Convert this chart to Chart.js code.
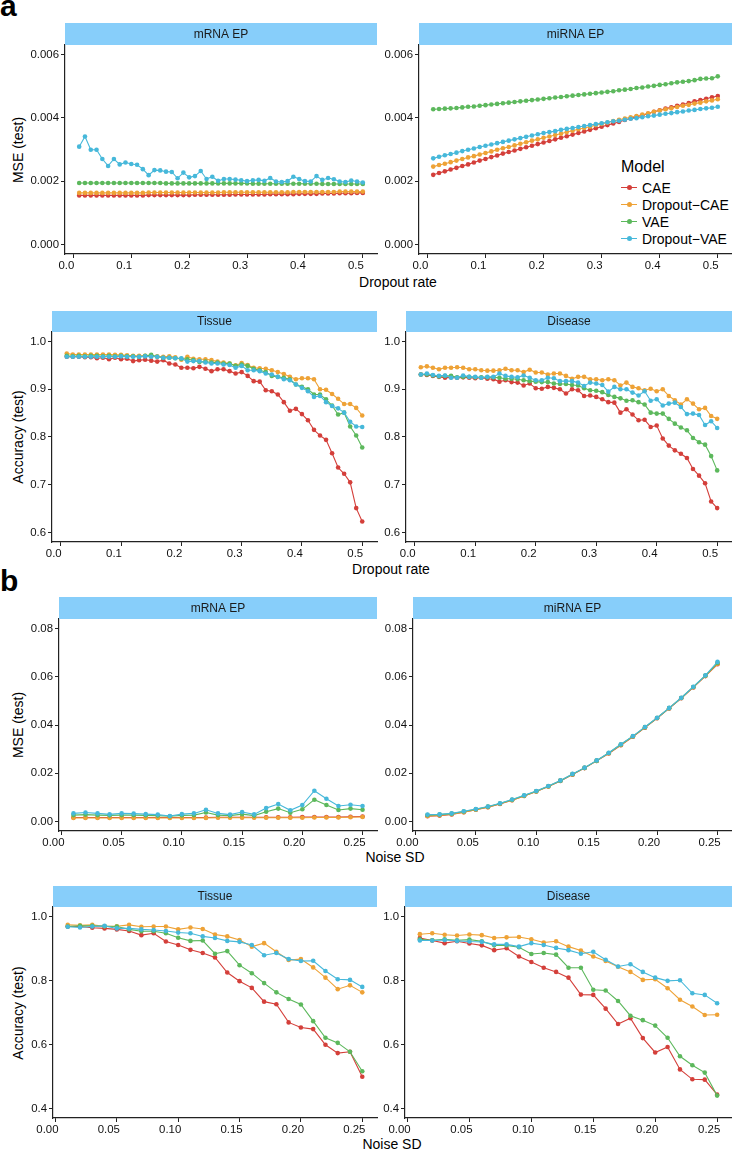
<!DOCTYPE html>
<html>
<head>
<meta charset="utf-8">
<script src="https://cdn.jsdelivr.net/npm/chart.js@4.4.0/dist/chart.umd.min.js"></script>
<style>
  html, body { margin:0; padding:0; background:#fff; width:732px; height:1150px; overflow:hidden; position:relative; font-family:"Liberation Sans", Arial, sans-serif; }
  canvas { position:absolute; }
  .lbl { position:absolute; font-weight:bold; font-size:30px; line-height:30px; color:#000; }
  .xt { position:absolute; font-size:14px; line-height:14px; color:#000; transform:translate(-50%,-50%); white-space:nowrap; }
  .yt { position:absolute; font-size:14px; line-height:14px; color:#000; transform:translate(-50%,-50%) rotate(-90deg); white-space:nowrap; }
  .leg { position:absolute; left:621px; top:159px; color:#000; }
  .leg .ttl { font-size:16px; line-height:16px; margin-bottom:4px; }
  .leg .row { height:17px; display:flex; align-items:center; font-size:14px; }
  .leg .key { width:16px; height:10px; position:relative; margin-right:5px; }
  .leg .key .ln { position:absolute; left:0; right:0; top:4.5px; height:1px; }
  .leg .key .dt { position:absolute; left:5.5px; top:2.5px; width:5px; height:5px; border-radius:50%; }
</style>
</head>
<body>
<div class="lbl" style="left:0px; top:-9px;">a</div>
<div class="lbl" style="left:0px; top:566px;">b</div>

<div class="yt" style="left:18px; top:150px;">MSE (test)</div>
<div class="yt" style="left:18px; top:437px;">Accuracy (test)</div>
<div class="yt" style="left:18px; top:725px;">MSE (test)</div>
<div class="yt" style="left:18px; top:1013px;">Accuracy (test)</div>

<div class="xt" style="left:398px; top:282px;">Dropout rate</div>
<div class="xt" style="left:391px; top:569px;">Dropout rate</div>
<div class="xt" style="left:395px; top:857px;">Noise SD</div>
<div class="xt" style="left:392px; top:1144px;">Noise SD</div>

<div class="leg" id="legend"></div>

<canvas id="c1"></canvas><canvas id="c2"></canvas><canvas id="c3"></canvas><canvas id="c4"></canvas>
<canvas id="c5"></canvas><canvas id="c6"></canvas><canvas id="c7"></canvas><canvas id="c8"></canvas>

<script>
// ---------------- DATA ----------------
const modelNames = ['CAE', 'Dropout\u2212CAE', 'VAE', 'Dropout\u2212VAE'];
const modelColors = ['#D43F3A', '#EEA236', '#5CB85C', '#46B8DA'];

const dropoutRates = [0.01,0.02,0.03,0.04,0.05,0.06,0.07,0.08,0.09,0.10,
  0.11,0.12,0.13,0.14,0.15,0.16,0.17,0.18,0.19,0.20,
  0.21,0.22,0.23,0.24,0.25,0.26,0.27,0.28,0.29,0.30,
  0.31,0.32,0.33,0.34,0.35,0.36,0.37,0.38,0.39,0.40,
  0.41,0.42,0.43,0.44,0.45,0.46,0.47,0.48,0.49,0.50];
const noiseSDs = [0.01,0.02,0.03,0.04,0.05,0.06,0.07,0.08,0.09,0.10,
  0.11,0.12,0.13,0.14,0.15,0.16,0.17,0.18,0.19,0.20,
  0.21,0.22,0.23,0.24,0.25];

// tick values and labels
const dropoutTicks = [0.0,0.1,0.2,0.3,0.4,0.5];
const dropoutTickLabels = ['0.0','0.1','0.2','0.3','0.4','0.5'];
const noiseTicks = [0.00,0.05,0.10,0.15,0.20,0.25];
const noiseTickLabels = ['0.00','0.05','0.10','0.15','0.20','0.25'];
const mseDropTicks = [0.000,0.002,0.004,0.006];
const mseDropTickLabels = ['0.000','0.002','0.004','0.006'];
const accDropTicks = [0.6,0.7,0.8,0.9,1.0];
const accDropTickLabels = ['0.6','0.7','0.8','0.9','1.0'];
const mseNoiseTicks = [0.00,0.02,0.04,0.06,0.08];
const mseNoiseTickLabels = ['0.00','0.02','0.04','0.06','0.08'];
const accNoiseTicks = [0.4,0.6,0.8,1.0];
const accNoiseTickLabels = ['0.4','0.6','0.8','1.0'];

// (a) MSE vs dropout, mRNA EP
const mrnaDropCAE = [0.00155,0.00155,0.00155,0.00155,0.00155,0.00155,0.00155,0.00155,0.00155,0.00155,
  0.00155,0.00155,0.00156,0.00156,0.00156,0.00156,0.00156,0.00156,0.00156,0.00156,
  0.00157,0.00157,0.00157,0.00157,0.00157,0.00157,0.00157,0.00158,0.00158,0.00158,
  0.00158,0.00158,0.00158,0.00159,0.00159,0.00159,0.00159,0.00159,0.00160,0.00160,
  0.00160,0.00160,0.00161,0.00161,0.00161,0.00162,0.00162,0.00162,0.00163,0.00163];
const mrnaDropDCAE = [0.00163,0.00163,0.00163,0.00163,0.00163,0.00163,0.00163,0.00163,0.00163,0.00163,
  0.00163,0.00163,0.00164,0.00164,0.00164,0.00164,0.00164,0.00164,0.00164,0.00164,
  0.00164,0.00164,0.00164,0.00164,0.00164,0.00165,0.00165,0.00165,0.00165,0.00165,
  0.00165,0.00165,0.00165,0.00165,0.00165,0.00165,0.00165,0.00166,0.00166,0.00166,
  0.00166,0.00166,0.00166,0.00166,0.00166,0.00167,0.00167,0.00167,0.00167,0.00167];
const mrnaDropVAE = [0.00194,0.00194,0.00194,0.00194,0.00194,0.00194,0.00194,0.00194,0.00194,0.00194,
  0.00194,0.00194,0.00194,0.00194,0.00194,0.00193,0.00193,0.00193,0.00193,0.00193,
  0.00193,0.00193,0.00193,0.00193,0.00193,0.00193,0.00193,0.00193,0.00193,0.00193,
  0.00192,0.00192,0.00192,0.00192,0.00192,0.00192,0.00192,0.00192,0.00192,0.00192,
  0.00192,0.00192,0.00191,0.00191,0.00191,0.00191,0.00191,0.00191,0.00191,0.00191];
const mrnaDropDVAE = [0.00309,0.00341,0.00299,0.00299,0.00270,0.00248,0.00270,0.00253,0.00259,0.00254,
  0.00252,0.00238,0.00219,0.00235,0.00234,0.00230,0.00229,0.00209,0.00227,0.00212,
  0.00216,0.00232,0.00207,0.00214,0.00201,0.00207,0.00207,0.00205,0.00203,0.00200,
  0.00203,0.00204,0.00201,0.00210,0.00199,0.00197,0.00200,0.00214,0.00207,0.00200,
  0.00199,0.00216,0.00204,0.00210,0.00206,0.00199,0.00197,0.00202,0.00199,0.00196];

// (a) MSE vs dropout, miRNA EP
const mirnaDropCAE = [0.00220,0.00226,0.00231,0.00237,0.00242,0.00248,0.00253,0.00259,0.00265,0.00270,
  0.00276,0.00281,0.00287,0.00292,0.00297,0.00302,0.00307,0.00312,0.00317,0.00322,
  0.00327,0.00332,0.00337,0.00342,0.00347,0.00352,0.00357,0.00362,0.00367,0.00372,
  0.00377,0.00382,0.00387,0.00393,0.00398,0.00403,0.00408,0.00413,0.00419,0.00424,
  0.00429,0.00433,0.00438,0.00442,0.00447,0.00452,0.00456,0.00460,0.00465,0.00469];
const mirnaDropDCAE = [0.00246,0.00251,0.00255,0.00260,0.00265,0.00270,0.00275,0.00279,0.00284,0.00289,
  0.00294,0.00299,0.00304,0.00308,0.00313,0.00318,0.00323,0.00328,0.00332,0.00337,
  0.00341,0.00346,0.00350,0.00355,0.00359,0.00364,0.00368,0.00372,0.00377,0.00381,
  0.00385,0.00390,0.00394,0.00398,0.00402,0.00406,0.00410,0.00414,0.00419,0.00423,
  0.00427,0.00430,0.00434,0.00438,0.00441,0.00445,0.00448,0.00452,0.00455,0.00459];
const mirnaDropVAE = [0.00427,0.00428,0.00429,0.00430,0.00431,0.00433,0.00435,0.00436,0.00438,0.00440,
  0.00442,0.00444,0.00446,0.00448,0.00450,0.00452,0.00454,0.00456,0.00458,0.00460,
  0.00462,0.00464,0.00466,0.00468,0.00470,0.00472,0.00474,0.00476,0.00478,0.00480,
  0.00482,0.00484,0.00487,0.00489,0.00491,0.00494,0.00496,0.00499,0.00501,0.00504,
  0.00506,0.00509,0.00512,0.00514,0.00516,0.00519,0.00523,0.00524,0.00525,0.00531];
const mirnaDropDVAE = [0.00272,0.00277,0.00282,0.00286,0.00290,0.00295,0.00299,0.00303,0.00308,0.00312,
  0.00316,0.00320,0.00324,0.00328,0.00332,0.00336,0.00340,0.00344,0.00348,0.00352,
  0.00355,0.00358,0.00362,0.00365,0.00368,0.00371,0.00374,0.00377,0.00380,0.00383,
  0.00386,0.00389,0.00391,0.00394,0.00397,0.00399,0.00402,0.00405,0.00407,0.00410,
  0.00413,0.00415,0.00418,0.00420,0.00423,0.00425,0.00428,0.00430,0.00432,0.00435];

// (a) Accuracy vs dropout, Tissue
const tisDropCAE = [0.968,0.968,0.968,0.967,0.967,0.965,0.966,0.963,0.966,0.963,
  0.964,0.959,0.961,0.962,0.960,0.958,0.961,0.954,0.952,0.945,
  0.945,0.944,0.947,0.943,0.938,0.942,0.942,0.938,0.933,0.936,
  0.928,0.917,0.916,0.898,0.896,0.889,0.873,0.855,0.859,0.848,
  0.835,0.815,0.803,0.794,0.766,0.736,0.723,0.705,0.651,0.623];
const tisDropDCAE = [0.975,0.973,0.973,0.973,0.973,0.973,0.973,0.973,0.972,0.972,
  0.971,0.970,0.970,0.970,0.969,0.969,0.968,0.969,0.967,0.962,
  0.968,0.964,0.963,0.963,0.961,0.958,0.956,0.954,0.950,0.955,
  0.951,0.945,0.944,0.943,0.940,0.936,0.932,0.926,0.921,0.923,
  0.923,0.921,0.900,0.899,0.890,0.880,0.869,0.869,0.861,0.845];
const tisDropVAE = [0.970,0.969,0.970,0.969,0.970,0.970,0.969,0.970,0.969,0.970,
  0.969,0.969,0.968,0.970,0.972,0.968,0.966,0.966,0.965,0.964,
  0.963,0.961,0.957,0.958,0.956,0.956,0.954,0.954,0.949,0.952,
  0.949,0.943,0.940,0.936,0.928,0.926,0.924,0.921,0.910,0.905,
  0.900,0.889,0.889,0.879,0.866,0.847,0.851,0.822,0.803,0.778];
const tisDropDVAE = [0.968,0.968,0.968,0.968,0.968,0.968,0.968,0.968,0.968,0.969,
  0.968,0.968,0.968,0.969,0.968,0.968,0.966,0.966,0.965,0.965,
  0.958,0.959,0.959,0.956,0.954,0.954,0.952,0.951,0.945,0.949,
  0.940,0.940,0.938,0.933,0.931,0.926,0.921,0.919,0.910,0.903,
  0.896,0.884,0.886,0.873,0.865,0.860,0.851,0.832,0.822,0.821];

// (a) Accuracy vs dropout, Disease
const disDropCAE = [0.931,0.930,0.928,0.926,0.924,0.925,0.924,0.925,0.924,0.923,
  0.924,0.922,0.921,0.916,0.919,0.915,0.914,0.908,0.912,0.902,
  0.901,0.905,0.903,0.900,0.891,0.900,0.898,0.886,0.887,0.884,
  0.879,0.873,0.872,0.851,0.858,0.847,0.835,0.836,0.821,0.824,
  0.797,0.782,0.772,0.765,0.756,0.733,0.719,0.703,0.665,0.651];
const disDropDCAE = [0.946,0.948,0.945,0.942,0.945,0.945,0.946,0.945,0.942,0.942,
  0.940,0.939,0.939,0.940,0.943,0.940,0.940,0.936,0.941,0.935,
  0.935,0.931,0.933,0.933,0.928,0.922,0.926,0.926,0.921,0.921,
  0.919,0.921,0.919,0.908,0.914,0.905,0.902,0.898,0.901,0.896,
  0.900,0.886,0.877,0.868,0.879,0.870,0.858,0.861,0.844,0.838];
const disDropVAE = [0.931,0.931,0.929,0.927,0.928,0.928,0.925,0.926,0.926,0.925,
  0.925,0.925,0.925,0.924,0.922,0.922,0.921,0.919,0.917,0.916,
  0.915,0.915,0.912,0.911,0.911,0.909,0.908,0.902,0.898,0.897,
  0.894,0.888,0.884,0.881,0.876,0.877,0.873,0.868,0.851,0.849,
  0.849,0.838,0.828,0.820,0.814,0.798,0.789,0.784,0.760,0.730];
const disDropDVAE = [0.931,0.933,0.930,0.928,0.929,0.924,0.924,0.929,0.926,0.926,
  0.924,0.926,0.926,0.933,0.928,0.926,0.925,0.929,0.924,0.919,
  0.919,0.924,0.923,0.917,0.917,0.917,0.914,0.907,0.914,0.912,
  0.909,0.895,0.905,0.900,0.900,0.893,0.887,0.896,0.876,0.879,
  0.866,0.870,0.872,0.863,0.848,0.849,0.846,0.825,0.833,0.819];

// (b) MSE vs noise, mRNA EP
const mrnaNoiseCAE = [0.0016,0.0016,0.0016,0.0016,0.0016,0.0016,0.0016,0.0016,0.0016,0.0016,
  0.0016,0.0016,0.0017,0.0017,0.0017,0.0017,0.0017,0.0017,0.0017,0.0018,
  0.0018,0.0018,0.0018,0.0019,0.0020];
const mrnaNoiseDCAE = [0.0014,0.0014,0.0014,0.0014,0.0014,0.0014,0.0014,0.0014,0.0014,0.0014,
  0.0014,0.0014,0.0015,0.0015,0.0015,0.0015,0.0015,0.0015,0.0015,0.0015,
  0.0016,0.0016,0.0016,0.0017,0.0018];
const mrnaNoiseVAE = [0.0026,0.0028,0.0026,0.0025,0.0026,0.0026,0.0025,0.0024,0.0021,0.0025,
  0.0026,0.0037,0.0026,0.0024,0.0030,0.0024,0.0040,0.0053,0.0036,0.0050,
  0.0090,0.0068,0.0047,0.0053,0.0048];
const mrnaNoiseDVAE = [0.0033,0.0037,0.0033,0.0029,0.0033,0.0032,0.0030,0.0028,0.0022,0.0030,
  0.0033,0.0048,0.0033,0.0028,0.0039,0.0029,0.0055,0.0072,0.0046,0.0068,
  0.0127,0.0094,0.0064,0.0069,0.0064];

// (b) MSE vs noise, miRNA EP
const mirnaNoiseCAE = [0.0021,0.0024,0.0029,0.0038,0.0048,0.0059,0.0072,0.0088,0.0105,0.0124,
  0.0145,0.0168,0.0194,0.0221,0.0251,0.0282,0.0316,0.0351,0.0389,0.0428,
  0.0469,0.0511,0.0556,0.0603,0.0652];
const mirnaNoiseDCAE = [0.0022,0.0025,0.0030,0.0038,0.0048,0.0059,0.0073,0.0088,0.0105,0.0124,
  0.0145,0.0169,0.0195,0.0222,0.0251,0.0283,0.0317,0.0352,0.0390,0.0429,
  0.0470,0.0512,0.0557,0.0604,0.0654];
const mirnaNoiseVAE = [0.0026,0.0028,0.0032,0.0041,0.0050,0.0061,0.0074,0.0090,0.0107,0.0125,
  0.0146,0.0169,0.0196,0.0222,0.0252,0.0284,0.0319,0.0353,0.0391,0.0429,
  0.0470,0.0512,0.0558,0.0605,0.0658];
const mirnaNoiseDVAE = [0.0028,0.0029,0.0033,0.0042,0.0051,0.0062,0.0075,0.0091,0.0108,0.0126,
  0.0147,0.0170,0.0197,0.0223,0.0253,0.0285,0.0320,0.0354,0.0392,0.0430,
  0.0471,0.0513,0.0559,0.0606,0.0662];

// (b) Accuracy vs noise, Tissue
const tisNoiseCAE = [0.969,0.969,0.965,0.963,0.960,0.955,0.942,0.948,0.922,0.911,
  0.896,0.886,0.872,0.825,0.798,0.777,0.734,0.726,0.669,0.653,
  0.648,0.599,0.573,0.577,0.499];
const tisNoiseDCAE = [0.974,0.973,0.974,0.970,0.970,0.974,0.968,0.969,0.969,0.960,
  0.966,0.961,0.944,0.938,0.927,0.906,0.917,0.890,0.864,0.867,
  0.841,0.809,0.773,0.785,0.763];
const tisNoiseVAE = [0.969,0.971,0.971,0.970,0.969,0.960,0.954,0.954,0.948,0.934,
  0.924,0.925,0.884,0.892,0.848,0.823,0.792,0.763,0.742,0.725,
  0.673,0.621,0.605,0.577,0.516];
const tisNoiseDVAE = [0.968,0.966,0.969,0.971,0.963,0.963,0.960,0.958,0.955,0.950,
  0.948,0.938,0.933,0.924,0.921,0.911,0.879,0.886,0.867,0.861,
  0.862,0.830,0.804,0.802,0.780];

// (b) Accuracy vs noise, Disease
const disNoiseCAE = [0.933,0.925,0.917,0.923,0.916,0.910,0.895,0.901,0.875,0.858,
  0.840,0.827,0.809,0.756,0.755,0.712,0.664,0.682,0.620,0.575,
  0.592,0.522,0.491,0.490,0.443];
const disNoiseDCAE = [0.945,0.948,0.943,0.941,0.944,0.942,0.933,0.935,0.936,0.929,
  0.919,0.923,0.906,0.894,0.875,0.861,0.843,0.827,0.802,0.804,
  0.776,0.740,0.719,0.692,0.693];
const disNoiseVAE = [0.929,0.926,0.929,0.926,0.928,0.923,0.910,0.910,0.904,0.883,
  0.886,0.881,0.840,0.840,0.771,0.769,0.736,0.690,0.676,0.659,
  0.621,0.563,0.535,0.512,0.440];
const disNoiseDVAE = [0.925,0.925,0.927,0.924,0.922,0.921,0.913,0.913,0.906,0.917,
  0.911,0.902,0.895,0.884,0.890,0.865,0.844,0.851,0.827,0.809,
  0.799,0.801,0.760,0.755,0.729];

// ---------------- RENDERING ----------------
const FONT = '"Liberation Sans", Arial, Helvetica, sans-serif';
const TICK_COLOR = '#111111';
const AXIS_COLOR = '#222222';

const stripPlugin = {
  id: 'strip',
  afterDraw(chart, args, opts) {
    const ca = chart.chartArea, ctx = chart.ctx;
    ctx.save();
    ctx.fillStyle = '#87CEFA';
    ctx.fillRect(ca.left, ca.top - opts.h, ca.right - ca.left, opts.h);
    ctx.fillStyle = '#1a1a1a';
    ctx.font = '12px ' + FONT;
    ctx.textAlign = 'center';
    ctx.textBaseline = 'middle';
    ctx.fillText(opts.label, (ca.left + ca.right) / 2, ca.top - opts.h / 2 + 0.5);
    ctx.restore();
  }
};

function makePanel(id, g, label, xs, seriesList, xr, yr) {
  const YW = 48, XH = 24;
  const cv = document.getElementById(id);
  const pr = g.R >= 731 ? 0 : 2;
  const W = YW + (g.R - g.L) + pr;
  const H = (g.B - g.S) + XH;
  cv.width = W; cv.height = H;
  cv.style.left = (g.L - YW) + 'px';
  cv.style.top = g.S + 'px';
  cv.style.width = W + 'px'; cv.style.height = H + 'px';

  const datasets = seriesList.map((ys, k) => ({
    label: modelNames[k],
    data: xs.map((x, i) => ({ x: x, y: ys[i] })),
    borderColor: modelColors[k],
    backgroundColor: modelColors[k],
    pointBackgroundColor: modelColors[k],
    borderWidth: 1.1,
    pointRadius: 2.3,
    pointBorderWidth: 0,
    tension: 0,
    clip: false,
    order: 4 - k
  }));

  const tickFont = { family: FONT, size: 11.4 };
  new Chart(cv, {
    type: 'line',
    data: { datasets },
    options: {
      responsive: false, animation: false, devicePixelRatio: 1,
      layout: { autoPadding: false, padding: { top: g.T - g.S, left: 0, right: pr, bottom: 0 } },
      plugins: { legend: { display: false }, tooltip: { enabled: false }, strip: { label: label, h: g.T - g.S } },
      scales: {
        x: {
          type: 'linear', min: xr.min, max: xr.max,
          afterBuildTicks: s => { s.ticks = xr.ticks.map(v => ({ value: v })); },
          afterFit: s => { s.height = XH; },
          grid: { display: true, drawOnChartArea: false, drawTicks: true, tickLength: 4, tickColor: AXIS_COLOR, tickWidth: 1 },
          border: { display: true, color: AXIS_COLOR, width: 1.2 },
          ticks: { callback: (v, i) => xr.labels[i], font: tickFont, color: TICK_COLOR, padding: 1, labelOffset: xr.off, maxRotation: 0, autoSkip: false }
        },
        y: {
          type: 'linear', min: yr.min, max: yr.max,
          afterBuildTicks: s => { s.ticks = yr.ticks.map(v => ({ value: v })); },
          afterFit: s => { s.width = YW; },
          grid: { display: true, drawOnChartArea: false, drawTicks: true, tickLength: 4, tickColor: AXIS_COLOR, tickWidth: 1 },
          border: { display: true, color: AXIS_COLOR, width: 1.2 },
          ticks: { callback: (v, i) => yr.labels[i], font: tickFont, color: TICK_COLOR, padding: 2, autoSkip: false }
        }
      }
    },
    plugins: [stripPlugin]
  });
}

const xDrop = { min: -0.0145, max: 0.5245, ticks: dropoutTicks, labels: dropoutTickLabels, off: -7 };
const xNoise = { min: -0.002, max: 0.262, ticks: noiseTicks, labels: noiseTickLabels, off: -8 };
const yMseDrop = { min: -0.0003, max: 0.0063, ticks: mseDropTicks, labels: mseDropTickLabels };
const yAccDrop = { min: 0.58, max: 1.02, ticks: accDropTicks, labels: accDropTickLabels };
const yMseNoise = { min: -0.004, max: 0.084, ticks: mseNoiseTicks, labels: mseNoiseTickLabels };
const yAccNoise = { min: 0.37, max: 1.03, ticks: accNoiseTicks, labels: accNoiseTickLabels };

// geometry: S strip top, T plot top, B plot bottom, L plot left, R plot right
makePanel('c1', { S: 23, T: 45, B: 254, L: 65, R: 377 }, 'mRNA EP', dropoutRates,
  [mrnaDropCAE, mrnaDropDCAE, mrnaDropVAE, mrnaDropDVAE], xDrop, yMseDrop);
makePanel('c2', { S: 23, T: 45, B: 254, L: 419, R: 732 }, 'miRNA EP', dropoutRates,
  [mirnaDropCAE, mirnaDropDCAE, mirnaDropVAE, mirnaDropDVAE], xDrop, yMseDrop);
makePanel('c3', { S: 311, T: 332, B: 542, L: 52, R: 377 }, 'Tissue', dropoutRates,
  [tisDropCAE, tisDropDCAE, tisDropVAE, tisDropDVAE], xDrop, yAccDrop);
makePanel('c4', { S: 311, T: 332, B: 542, L: 406, R: 732 }, 'Disease', dropoutRates,
  [disDropCAE, disDropDCAE, disDropVAE, disDropDVAE], xDrop, yAccDrop);
makePanel('c5', { S: 597, T: 619, B: 831, L: 59, R: 377 }, 'mRNA EP', noiseSDs,
  [mrnaNoiseCAE, mrnaNoiseDCAE, mrnaNoiseVAE, mrnaNoiseDVAE], xNoise, yMseNoise);
makePanel('c6', { S: 597, T: 619, B: 831, L: 413, R: 732 }, 'miRNA EP', noiseSDs,
  [mirnaNoiseCAE, mirnaNoiseDCAE, mirnaNoiseVAE, mirnaNoiseDVAE], xNoise, yMseNoise);
makePanel('c7', { S: 886, T: 907, B: 1118, L: 53, R: 377 }, 'Tissue', noiseSDs,
  [tisNoiseCAE, tisNoiseDCAE, tisNoiseVAE, tisNoiseDVAE], xNoise, yAccNoise);
makePanel('c8', { S: 886, T: 907, B: 1118, L: 405, R: 732 }, 'Disease', noiseSDs,
  [disNoiseCAE, disNoiseDCAE, disNoiseVAE, disNoiseDVAE], xNoise, yAccNoise);

// legend (Model)
const leg = document.getElementById('legend');
let html = '<div class="ttl">Model</div>';
modelNames.forEach((n, k) => {
  html += '<div class="row"><span class="key"><span class="ln" style="background:' + modelColors[k] +
    '"></span><span class="dt" style="background:' + modelColors[k] + '"></span></span>' + n + '</div>';
});
leg.innerHTML = html;
</script>
</body>
</html>
